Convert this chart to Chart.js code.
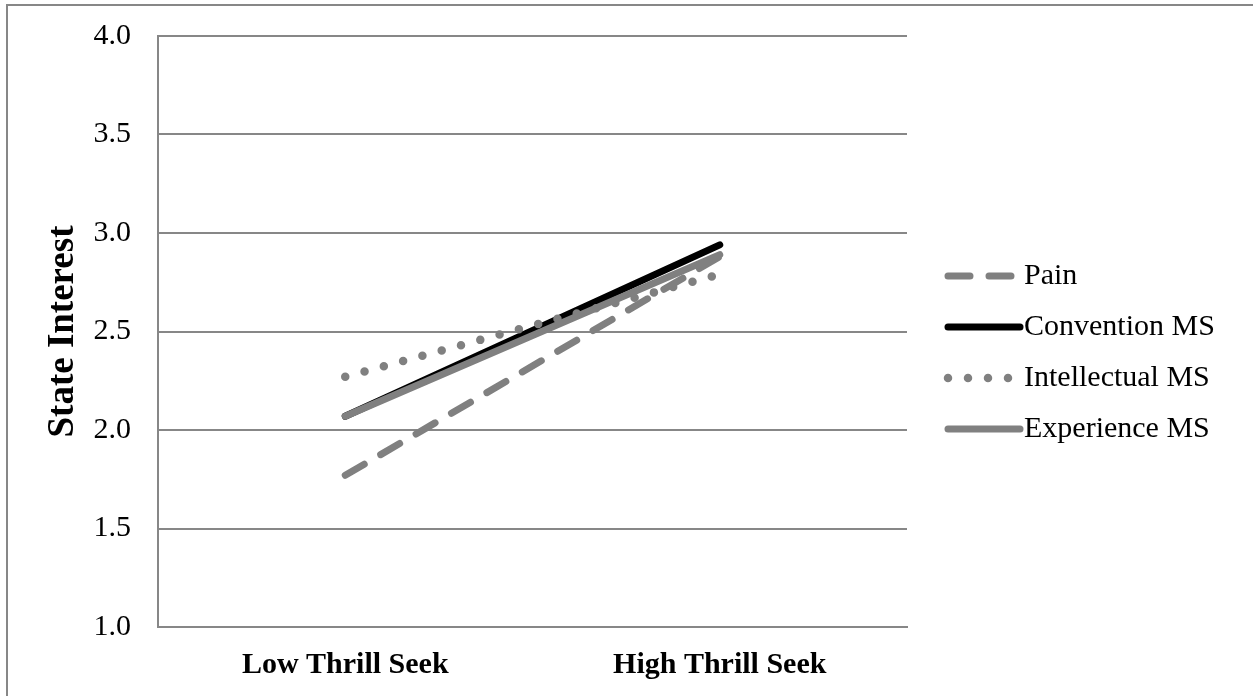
<!DOCTYPE html>
<html>
<head>
<meta charset="utf-8">
<script src="https://cdn.jsdelivr.net/npm/chart.js@4"></script>
<style>
  html, body { margin: 0; padding: 0; background: #fff; }
  #wrap { width: 1253px; height: 696px; position: relative; }
</style>
</head>
<body>
<div id="wrap"><canvas id="c" width="1253" height="696"></canvas></div>
<script>
const categories = ["Low Thrill Seek", "High Thrill Seek"];
const seriesNames = ["Pain", "Convention MS", "Intellectual MS", "Experience MS"];
const painValues = [1.77, 2.88];
const conventionValues = [2.07, 2.94];
const intellectualValues = [2.27, 2.79];
const experienceValues = [2.07, 2.89];
const yTicks = [1.0, 1.5, 2.0, 2.5, 3.0, 3.5, 4.0];
const yTitle = "State Interest";

const GRAY = "#808080";
const GRID = "#878787";
const FONT = "'Liberation Serif', 'Times New Roman', serif";

const frame = {
  id: "frame",
  beforeDraw(chart) {
    const ctx = chart.ctx;
    ctx.save();
    ctx.strokeStyle = GRID;
    ctx.lineWidth = 2;
    ctx.beginPath();
    ctx.moveTo(7, chart.height);
    ctx.lineTo(7, 5);
    ctx.lineTo(chart.width, 5);
    ctx.stroke();
    ctx.restore();
  }
};

const customLegend = {
  id: "customLegend",
  afterDraw(chart) {
    const ctx = chart.ctx;
    const a = chart.chartArea;
    const ds = chart.data.datasets;
    const x0 = a.right + 41, x1 = a.right + 113, tx = a.right + 117;
    const spacing = 51;
    const midY = (a.top + a.bottom) / 2 + 21;
    ctx.save();
    ds.forEach((d, i) => {
      const y = midY + (i - (ds.length - 1) / 2) * spacing;
      ctx.strokeStyle = d.borderColor;
      ctx.lineWidth = d.borderWidth;
      ctx.lineCap = "round";
      if (d.legendDash) ctx.setLineDash(d.legendDash); else ctx.setLineDash([]);
      ctx.beginPath();
      ctx.moveTo(x0, y);
      ctx.lineTo(x1, y);
      ctx.stroke();
      ctx.setLineDash([]);
      ctx.fillStyle = "#000";
      ctx.font = "30px " + FONT;
      ctx.textBaseline = "middle";
      ctx.textAlign = "left";
      ctx.fillText(d.label, tx, y);
    });
    ctx.restore();
  }
};

new Chart(document.getElementById("c"), {
  type: "line",
  data: {
    labels: categories,
    datasets: [
      { label: seriesNames[0], data: painValues, borderColor: GRAY, borderWidth: 7,
        borderDash: [22, 19], borderCapStyle: "round", legendDash: [22, 19], order: 3 },
      { label: seriesNames[1], data: conventionValues, borderColor: "#000", borderWidth: 7,
        borderCapStyle: "round", order: 2 },
      { label: seriesNames[2], data: intellectualValues, borderColor: GRAY, borderWidth: 8.5,
        borderDash: [0, 20], borderCapStyle: "round", legendDash: [0, 20], order: 1 },
      { label: seriesNames[3], data: experienceValues, borderColor: GRAY, borderWidth: 7,
        borderCapStyle: "round", order: 0 }
    ]
  },
  options: {
    responsive: false,
    animation: false,
    devicePixelRatio: 1,
    layout: { padding: { top: 36, right: 346, bottom: 0, left: 0 } },
    elements: { point: { radius: 0, hoverRadius: 0 }, line: { tension: 0, fill: false } },
    plugins: { legend: { display: false }, tooltip: { enabled: false }, title: { display: false } },
    scales: {
      x: {
        type: "category",
        offset: true,
        grid: { display: false, drawTicks: false },
        border: { display: true, color: GRID, width: 2 },
        ticks: { color: "#000", padding: 20, font: { family: FONT, size: 30, weight: "bold" } },
        afterFit(scale) { scale.height = 69; scale.paddingLeft = 0; scale.paddingRight = 0; }
      },
      y: {
        min: 1, max: 4,
        afterBuildTicks(scale) { scale.ticks = yTicks.map(v => ({ value: v })); },
        grid: { color: GRID, lineWidth: 2, drawTicks: false },
        border: { display: true, color: GRID, width: 2 },
        ticks: { color: "#000", padding: 27, font: { family: FONT, size: 30 },
                 callback: v => Number(v).toFixed(1) },
        title: { display: true, text: yTitle, color: "#000", padding: { top: 41, bottom: 0 },
                 font: { family: FONT, size: 37, weight: "bold" } },
        afterFit(scale) { scale.width = 158; scale.paddingTop = 0; scale.paddingBottom = 0; }
      }
    }
  },
  plugins: [frame, customLegend]
});
</script>
</body>
</html>
